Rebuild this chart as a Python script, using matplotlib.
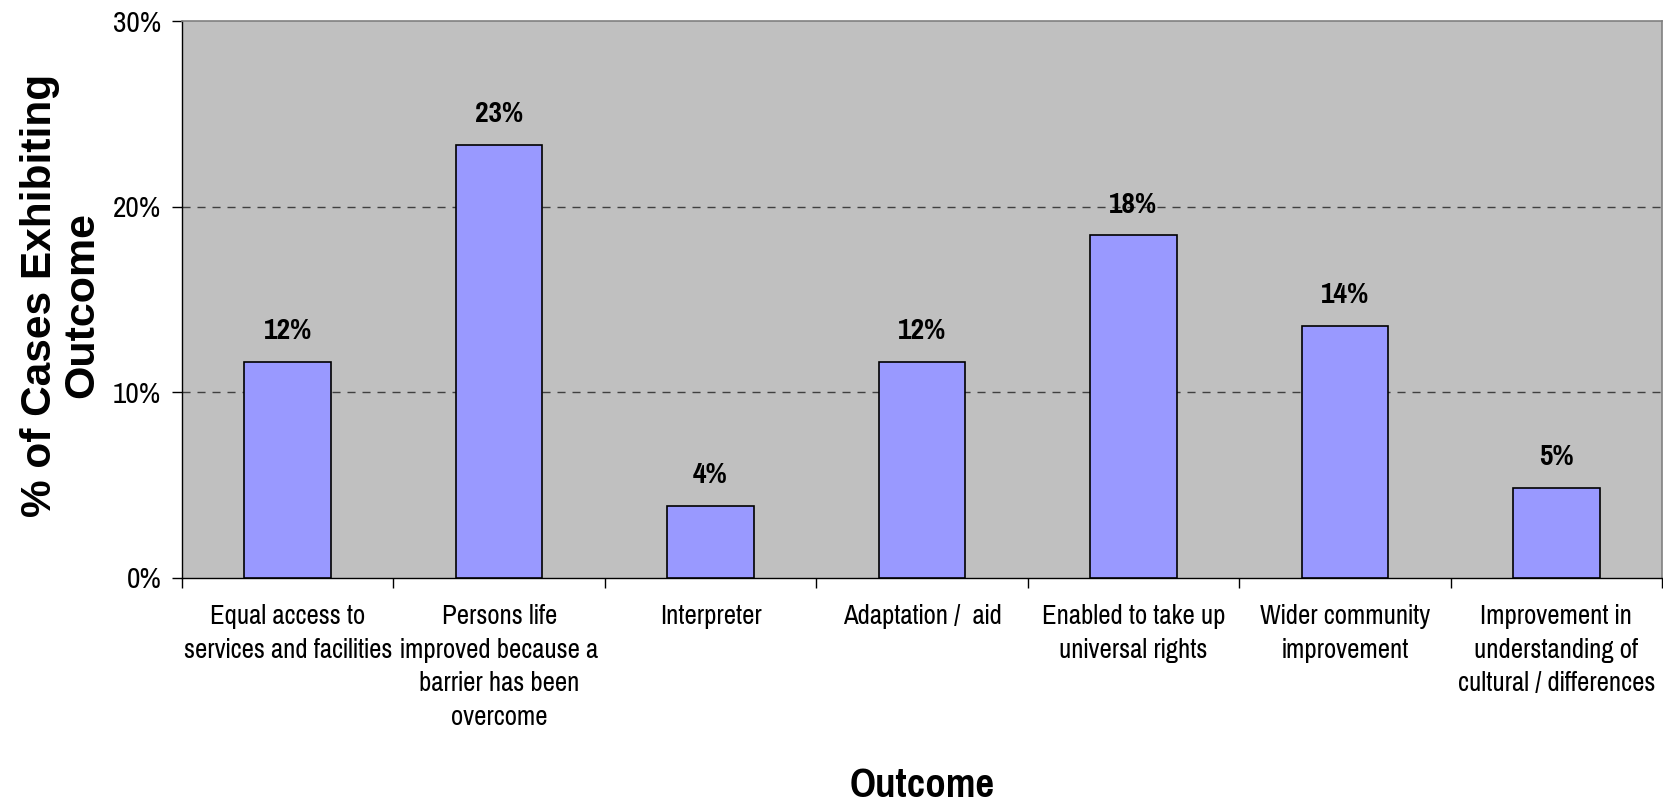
#!/usr/bin/env python3
# Bar chart: % of cases exhibiting each outcome

import matplotlib
matplotlib.use("Agg")
import matplotlib.pyplot as plt
from matplotlib import font_manager
from matplotlib.ticker import PercentFormatter, FixedLocator

# Data
outcomes = [
    "Equal access to\nservices and facilities",
    "Persons life\nimproved because a\nbarrier has been\novercome",
    "Interpreter",
    "Adaptation /  aid",
    "Enabled to take up\nuniversal rights",
    "Wider community\nimprovement",
    "Improvement in\nunderstanding of\ncultural / differences",
]
share = [0.1165, 0.2330, 0.0388, 0.1165, 0.1845, 0.1359, 0.0485]
y_ticks = [0.0, 0.1, 0.2, 0.3]
grid_lines = [0.1, 0.2]

installed = {f.name for f in font_manager.fontManager.ttflist}
narrow = "Pragati Narrow" if "Pragati Narrow" in installed else "Roboto Condensed"
wide = "Liberation Sans"

W, H = 1663, 805
fig = plt.figure(figsize=(W / 100, H / 100), dpi=100)
ax = fig.add_axes([182 / W, 1 - 578 / H, 1480 / W, 557 / H])
ax.set_facecolor("#C0C0C0")

x = list(range(len(outcomes)))
ax.bar(x, share, width=0.41, color="#9999FF", edgecolor="black", linewidth=1.2, zorder=3)

for i, v in enumerate(share):
    ax.annotate(f"{round(v * 100):.0f}%", (i, v), xytext=(0, 16.5), textcoords="offset points",
                ha="center", va="baseline", fontsize=23, fontweight="bold", family=narrow)

ax.set_xlim(-0.5, len(outcomes) - 0.5)
ax.set_ylim(0, 0.30)
ax.yaxis.set_major_locator(FixedLocator(y_ticks))
ax.yaxis.set_major_formatter(PercentFormatter(1.0, decimals=0))
for g in grid_lines:
    ax.axhline(g, color="#404040", linestyle=(0, (5.8, 5)), linewidth=1.0, zorder=1)

ax.set_xticks(x)
ax.set_xticklabels(outcomes, family=narrow, fontsize=21, linespacing=1.42)
ax.set_xticks([i - 0.5 for i in range(len(outcomes) + 1)], minor=True)
ax.tick_params(axis="x", which="major", length=0, pad=19)
ax.tick_params(axis="x", which="minor", length=7, width=1, direction="out")
ax.tick_params(axis="y", length=7, width=1, direction="out", pad=8)
for lab in ax.get_yticklabels():
    lab.set_family(narrow)
    lab.set_fontsize(23)

for side in ("top", "right"):
    ax.spines[side].set_color("#808080")
    ax.spines[side].set_linewidth(1.2)
for side in ("left", "bottom"):
    ax.spines[side].set_color("black")
    ax.spines[side].set_linewidth(1.0)

# y-axis title, two lines placed separately
fig.text(51 / W, 1 - 295 / H, "% of Cases Exhibiting", rotation=90, rotation_mode="anchor",
         ha="center", va="baseline", fontsize=30.5, fontweight="bold", family=wide)
fig.text(93 / W, 1 - 305 / H, "Outcome", rotation=90, rotation_mode="anchor",
         ha="center", va="baseline", fontsize=31, fontweight="bold", family=wide)
fig.text(922 / W, 1 - 797 / H, "Outcome", ha="center", va="baseline",
         fontsize=32, fontweight="bold", family=narrow)

fig.savefig("out.png", dpi=100, facecolor="white")
